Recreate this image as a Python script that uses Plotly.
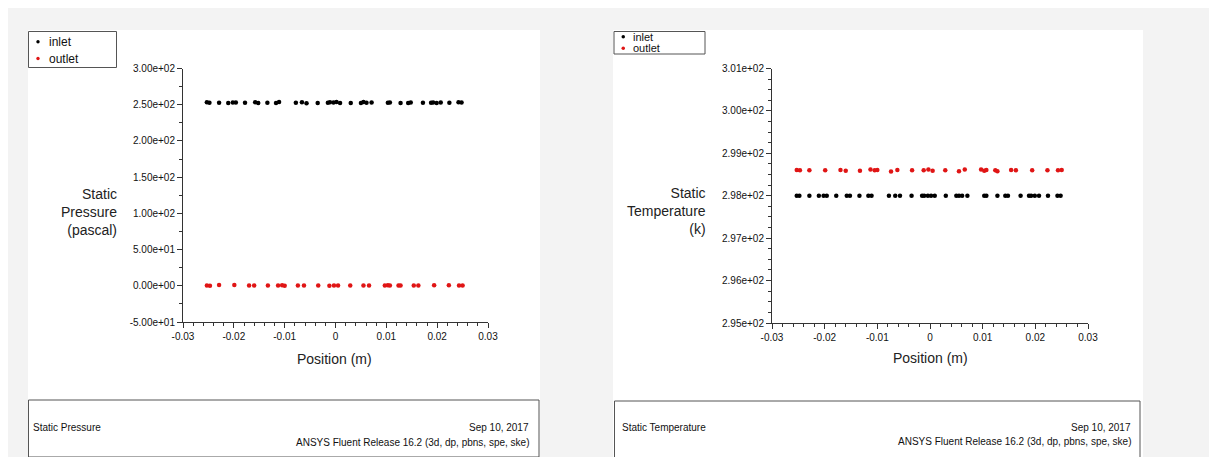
import plotly.graph_objects as go

# page is 1217x465; browser body margin is 8px, so the figure is sized to fit inside it
PAGE_OFF = 8
W, H = 1217 - 2 * PAGE_OFF, 465 - 2 * PAGE_OFF

# ---------------- data ----------------
inlet_pos = [-0.0253, -0.0248, -0.0229, -0.0211, -0.0202, -0.0196, -0.0178, -0.0158, -0.0152,
             -0.0134, -0.0117, -0.0111, -0.0078, -0.0066, -0.0057, -0.0035, -0.0015, -0.0011,
             -0.0004, 0.0002, 0.0009, 0.0030, 0.0050, 0.0055, 0.0061, 0.0071, 0.0103, 0.0107,
             0.0128, 0.0143, 0.0148, 0.0172, 0.0188, 0.0192, 0.0199, 0.0207, 0.0224, 0.0242, 0.0248]
outlet_pos = [-0.0253, -0.0247, -0.0229, -0.0199, -0.0170, -0.0160, -0.0133, -0.0113, -0.0105,
              -0.0100, -0.0074, -0.0062, -0.0034, -0.0012, -0.0003, 0.0005, 0.0029, 0.0055,
              0.0066, 0.0097, 0.0103, 0.0107, 0.0124, 0.0128, 0.0154, 0.0163, 0.0194, 0.0223,
              0.0243, 0.0250]

inlet_pressure = [253.5, 252.8, 252.6, 252.4, 253.2, 252.9, 252.7, 253.3, 252.5,
                  252.6, 252.4, 253.6, 252.8, 253.4, 251.9, 252.5, 252.6, 253.3,
                  252.9, 253.7, 252.4, 252.5, 252.3, 253.6, 252.7, 253.1, 252.8, 253.2,
                  252.5, 252.4, 253.0, 252.6, 252.7, 253.1, 252.5, 252.9, 252.8, 253.3, 252.9]
outlet_pressure = [0.3, 0.2, 1.2, 1.1, 0.4, 0.5, 0.3, 0.4, 0.6,
                   0.2, 0.3, 0.5, 0.4, 0.2, 0.3, 0.4, 0.5, 0.3,
                   0.4, 0.3, 0.6, 0.5, 0.4, 0.3, 0.5, 0.4, 0.6, 0.7,
                   0.4, 0.3]

inlet_temperature = [298.00, 298.00, 298.00, 298.00, 298.00, 298.00, 298.00, 298.00, 298.00,
                     298.00, 298.00, 298.00, 298.00, 298.00, 298.00, 298.00, 298.00, 298.00,
                     298.00, 298.00, 298.00, 298.00, 298.00, 298.00, 298.00, 298.00, 298.00, 298.00,
                     298.00, 298.00, 298.00, 298.00, 298.00, 298.00, 298.00, 298.00, 298.00, 298.00, 298.00]
outlet_temperature = [298.61, 298.60, 298.60, 298.60, 298.61, 298.59, 298.59, 298.62, 298.60,
                      298.61, 298.57, 298.61, 298.60, 298.60, 298.62, 298.59, 298.60, 298.58,
                      298.62, 298.62, 298.59, 298.61, 298.60, 298.58, 298.61, 298.60, 298.60, 298.60,
                      298.60, 298.61]

x_ticks = [-0.03, -0.02, -0.01, 0, 0.01, 0.02, 0.03]
x_ticktext = ["-0.03", "-0.02", "-0.01", "0", "0.01", "0.02", "0.03"]
p_ticks = [-50, 0, 50, 100, 150, 200, 250, 300]
p_ticktext = ["-5.00e+01", "0.00e+00", "5.00e+01", "1.00e+02", "1.50e+02", "2.00e+02", "2.50e+02", "3.00e+02"]
t_ticks = [295, 296, 297, 298, 299, 300, 301]
t_ticktext = ["2.95e+02", "2.96e+02", "2.97e+02", "2.98e+02", "2.99e+02", "3.00e+02", "3.01e+02"]
series_names = ["inlet", "outlet"]

# ---------------- helpers (page pixel -> paper fraction) ----------------
def px(x):
    return (x - PAGE_OFF) / W

def py(y):
    return 1 - (y - PAGE_OFF) / H

FONT = "Liberation Sans, Arial, sans-serif"
BLACK = "#000000"
RED = "#e01515"
MS = 4.5

fig = go.Figure()

fig.add_trace(go.Scatter(x=inlet_pos, y=inlet_pressure, mode="markers", name=series_names[0],
                         marker=dict(color=BLACK, size=MS), xaxis="x", yaxis="y"))
fig.add_trace(go.Scatter(x=outlet_pos, y=outlet_pressure, mode="markers", name=series_names[1],
                         marker=dict(color=RED, size=MS), xaxis="x", yaxis="y"))
fig.add_trace(go.Scatter(x=inlet_pos, y=inlet_temperature, mode="markers", name=series_names[0],
                         marker=dict(color=BLACK, size=MS), xaxis="x2", yaxis="y2"))
fig.add_trace(go.Scatter(x=outlet_pos, y=outlet_temperature, mode="markers", name=series_names[1],
                         marker=dict(color=RED, size=MS), xaxis="x2", yaxis="y2"))

axis_common = dict(showgrid=False, zeroline=False, showline=True, linecolor="#333", linewidth=1,
                   ticks="outside", ticklen=5, tickcolor="#333", tickwidth=1, automargin=False,
                   tickfont=dict(family=FONT, size=10, color="#111"), mirror=False)

xd1 = [px(183), px(488)]
yd1 = [py(322), py(68.5)]
xd2 = [px(772), px(1088)]
yd2 = [py(323), py(68.5)]

fig.update_layout(
    width=W, height=H,
    margin=dict(l=0, r=0, t=0, b=0, pad=0, autoexpand=False),
    paper_bgcolor="#f3f3f3",
    plot_bgcolor="rgba(0,0,0,0)",
    showlegend=False,
    xaxis=dict(domain=xd1, anchor="y", range=[-0.03, 0.03], tickmode="array", tickvals=x_ticks,
               ticktext=x_ticktext,
               minor=dict(ticks="outside", ticklen=3, dtick=0.002, tick0=0, tickcolor="#333"),
               **axis_common),
    yaxis=dict(domain=yd1, anchor="x", range=[-50, 300], tickmode="array", tickvals=p_ticks,
               ticktext=p_ticktext,
               minor=dict(ticks="outside", ticklen=3, dtick=25, tick0=0, tickcolor="#333"),
               **axis_common),
    xaxis2=dict(domain=xd2, anchor="y2", range=[-0.03, 0.03], tickmode="array", tickvals=x_ticks,
                ticktext=x_ticktext,
                minor=dict(ticks="outside", ticklen=3, dtick=0.002, tick0=0, tickcolor="#333"),
                **axis_common),
    yaxis2=dict(domain=yd2, anchor="x2", range=[295, 301], tickmode="array", tickvals=t_ticks,
                ticktext=t_ticktext,
                minor=dict(ticks="outside", ticklen=3, dtick=0.25, tick0=295, tickcolor="#333"),
                **axis_common),
)

shapes = [
    # white panels
    dict(type="rect", xref="paper", yref="paper", x0=px(28), x1=px(540), y0=py(461), y1=py(30),
         fillcolor="#ffffff", line=dict(width=0), layer="below"),
    dict(type="rect", xref="paper", yref="paper", x0=px(613), x1=px(1143), y0=py(461), y1=py(30),
         fillcolor="#ffffff", line=dict(width=0), layer="below"),
    # footer boxes
    dict(type="rect", xref="paper", yref="paper", x0=px(28.5), x1=px(539), y0=py(457), y1=py(400),
         fillcolor="rgba(0,0,0,0)", line=dict(width=1, color="#555")),
    dict(type="rect", xref="paper", yref="paper", x0=px(614.5), x1=px(1140), y0=py(459), y1=py(401),
         fillcolor="rgba(0,0,0,0)", line=dict(width=1, color="#555")),
    # legend box, pressure plot
    dict(type="rect", xref="paper", yref="paper", x0=px(28.5), x1=px(116.5), y0=py(67.5), y1=py(31.5),
         fillcolor="#ffffff", line=dict(width=1, color="#555")),
    dict(type="circle", xref="paper", yref="paper", x0=px(36.3), x1=px(39.7), y0=py(43.5), y1=py(40.1),
         fillcolor=BLACK, line=dict(width=0)),
    dict(type="circle", xref="paper", yref="paper", x0=px(36.3), x1=px(39.7), y0=py(60.2), y1=py(56.8),
         fillcolor=RED, line=dict(width=0)),
    # legend box, temperature plot (compact)
    dict(type="rect", xref="paper", yref="paper", x0=px(614), x1=px(705), y0=py(54), y1=py(31.5),
         fillcolor="#ffffff", line=dict(width=1, color="#555")),
    dict(type="circle", xref="paper", yref="paper", x0=px(621.5), x1=px(625), y0=py(38.5), y1=py(35),
         fillcolor=BLACK, line=dict(width=0)),
    dict(type="circle", xref="paper", yref="paper", x0=px(621.5), x1=px(625), y0=py(50), y1=py(46.5),
         fillcolor=RED, line=dict(width=0)),
]

ann = []
def text(x, y, s, size, xanchor="left", align="left", color="#111", yanchor="middle"):
    ann.append(dict(x=px(x), y=py(y), xref="paper", yref="paper", text=s, showarrow=False,
                    xanchor=xanchor, yanchor=yanchor, align=align,
                    font=dict(family=FONT, size=size, color=color)))

# legend labels
text(47, 41.5, series_names[0], 12)
text(47, 58.5, series_names[1], 12)
text(631, 36.7, series_names[0], 11)
text(631, 48.2, series_names[1], 11)

# axis titles
text(119, 212, "Static<br>Pressure<br>(pascal)", 14, xanchor="right", align="right", color="#222")
text(708, 211, "Static<br>Temperature<br>(k)", 14, xanchor="right", align="right", color="#222")
text(335, 359, "Position (m)", 14, xanchor="center", align="center", color="#222")
text(930, 358, "Position (m)", 14, xanchor="center", align="center", color="#222")

# footers
text(31, 427, "Static Pressure", 10)
text(531, 427, "Sep 10, 2017", 10, xanchor="right", align="right")
text(531, 442, "ANSYS Fluent Release 16.2 (3d, dp, pbns, spe, ske)", 10, xanchor="right", align="right")
text(620, 427, "Static Temperature", 10)
text(1133, 427, "Sep 10, 2017", 10, xanchor="right", align="right")
text(1133, 441, "ANSYS Fluent Release 16.2 (3d, dp, pbns, spe, ske)", 10, xanchor="right", align="right")

fig.update_layout(shapes=shapes, annotations=ann)

fig.write_html("out.html")
